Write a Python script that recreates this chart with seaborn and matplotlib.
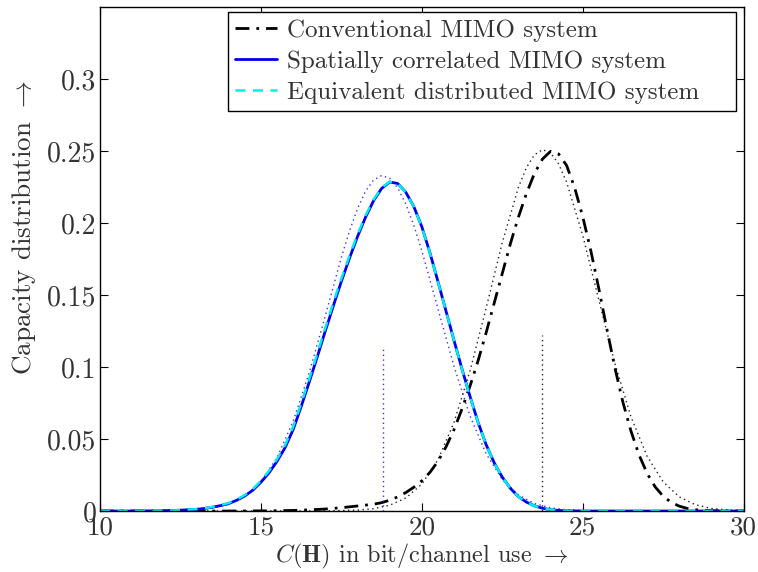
import numpy as np
import pandas as pd
import matplotlib
matplotlib.use("Agg")
import matplotlib.pyplot as plt
import seaborn as sns

# ---------------- data ----------------
x_corr = [10, 11, 12, 12.5, 13, 13.25, 13.5, 13.75, 14, 14.25, 14.5, 14.75, 15,
          15.25, 15.5, 15.75, 16, 16.25, 16.5, 16.75, 17, 17.25, 17.5, 17.75, 18,
          18.25, 18.5, 18.75, 19, 19.25, 19.5, 19.75, 20, 20.25, 20.5, 20.75, 21,
          21.25, 21.5, 21.75, 22, 22.25, 22.5, 22.75, 23, 23.25, 23.5, 23.75, 24,
          24.25, 24.5, 25, 26, 28, 30]
corr_pdf = [0, 0, 0.0002, 0.0006, 0.0012, 0.0018, 0.0027, 0.0038, 0.0052, 0.0075,
            0.0105, 0.0145, 0.0200, 0.0265, 0.0345, 0.0440, 0.0565, 0.0725, 0.0895,
            0.1070, 0.1250, 0.1425, 0.1595, 0.1755, 0.1905, 0.2040, 0.2155, 0.2240,
            0.2285, 0.2275, 0.2215, 0.2115, 0.1975, 0.1795, 0.1595, 0.1390, 0.1185,
            0.0985, 0.0795, 0.0615, 0.0460, 0.0335, 0.0235, 0.0158, 0.0100, 0.0062,
            0.0036, 0.0019, 0.0009, 0.0004, 0.0002, 0, 0, 0, 0]
dist_pdf = [0, 0, 0.0002, 0.0006, 0.0013, 0.0019, 0.0029, 0.0041, 0.0056, 0.0080,
            0.0111, 0.0153, 0.0210, 0.0278, 0.0360, 0.0458, 0.0585, 0.0747, 0.0917,
            0.1092, 0.1272, 0.1447, 0.1615, 0.1773, 0.1920, 0.2052, 0.2163, 0.2245,
            0.2287, 0.2275, 0.2213, 0.2113, 0.1973, 0.1793, 0.1593, 0.1388, 0.1183,
            0.0983, 0.0793, 0.0614, 0.0459, 0.0334, 0.0234, 0.0157, 0.0100, 0.0062,
            0.0036, 0.0019, 0.0009, 0.0004, 0.0002, 0, 0, 0, 0]

x_corr_gauss = [10, 12, 12.5, 13, 13.5, 14, 14.5, 15, 15.5, 16, 16.5, 17, 17.5,
                17.75, 18, 18.25, 18.5, 18.75, 19, 19.25, 19.5, 19.75, 20, 20.5,
                21, 21.5, 22, 22.5, 23, 23.5, 24, 24.5, 25, 26, 30]
corr_gauss = [0, 0.0001, 0.0003, 0.0008, 0.0020, 0.0047, 0.0102, 0.0203, 0.0371,
              0.0623, 0.0960, 0.1356, 0.1762, 0.1944, 0.2099, 0.2221, 0.2299,
              0.2330, 0.2311, 0.2244, 0.2133, 0.1985, 0.1807, 0.1406, 0.1005,
              0.0659, 0.0397, 0.0220, 0.0112, 0.0052, 0.0022, 0.0009, 0.0003, 0, 0]

x_conv = [10, 12, 14, 15, 16, 16.5, 17, 17.5, 18, 18.5, 18.75, 19, 19.25, 19.5,
          19.75, 20, 20.25, 20.5, 20.75, 21, 21.25, 21.5, 21.75, 22, 22.25, 22.5,
          22.75, 23, 23.25, 23.5, 23.75, 24, 24.25, 24.5, 24.75, 25, 25.25, 25.5,
          25.75, 26, 26.25, 26.5, 26.75, 27, 27.25, 27.5, 27.75, 28, 28.25, 28.5,
          28.75, 29, 29.5, 30]
conv_pdf = [0, 0, 0, 0.0001, 0.0004, 0.0008, 0.0014, 0.0023, 0.0035, 0.0047,
            0.0058, 0.0075, 0.0098, 0.0128, 0.0165, 0.0210, 0.0268, 0.0345,
            0.0445, 0.0565, 0.0710, 0.0870, 0.1045, 0.1240, 0.1445, 0.1650,
            0.1855, 0.2040, 0.2205, 0.2345, 0.2445, 0.2498, 0.2480, 0.2400,
            0.2245, 0.2045, 0.1810, 0.1545, 0.1265, 0.0995, 0.0755, 0.0555,
            0.0390, 0.0262, 0.0168, 0.0103, 0.0060, 0.0034, 0.0018, 0.0009,
            0.0004, 0.0002, 0, 0]

x_conv_gauss = [10, 17, 18, 18.5, 19, 19.5, 20, 20.5, 21, 21.5, 22, 22.5, 23,
                23.25, 23.5, 23.75, 24, 24.25, 24.5, 25, 25.5, 26, 26.5, 27,
                27.5, 28, 28.5, 29, 29.5, 30]
conv_gauss = [0, 0.0001, 0.0006, 0.0016, 0.0040, 0.0090, 0.0187, 0.0355, 0.0616,
              0.0975, 0.1411, 0.1864, 0.2247, 0.2385, 0.2474, 0.2510, 0.2488,
              0.2411, 0.2284, 0.1915, 0.1466, 0.1025, 0.0654, 0.0381, 0.0203,
              0.0098, 0.0044, 0.0018, 0.0007, 0.0002]

# mean markers (vertical dotted lines)
mean_x = [18.78, 23.74]
mean_h = [0.113, 0.122]

legend_labels = ["Conventional MIMO system",
                 "Spatially correlated MIMO system",
                 "Equivalent distributed MIMO system"]

# ---------------- style ----------------
sns.set_style("ticks")
plt.rcParams["font.family"] = "serif"
plt.rcParams["font.serif"] = ["cmr10", "DejaVu Serif"]
plt.rcParams["mathtext.fontset"] = "cm"
plt.rcParams["axes.formatter.use_mathtext"] = True
plt.rcParams["axes.unicode_minus"] = False

text_col = "#333333"

fig = plt.figure(figsize=(7.58, 5.72), dpi=100)
ax = fig.add_axes([0.132, 0.1066, 0.849, 0.881])

# Gaussian approximations (dotted)
sns.lineplot(x=x_corr_gauss, y=corr_gauss, ax=ax, color="#3333ff",
             linestyle=(0, (1, 2.5)), linewidth=1.0, estimator=None, legend=False)
sns.lineplot(x=x_conv_gauss, y=conv_gauss, ax=ax, color="#222222",
             linestyle=(0, (1, 2.5)), linewidth=1.0, estimator=None, legend=False)

# main curves
sns.lineplot(x=x_conv, y=conv_pdf, ax=ax, color="black", linewidth=2.0,
             linestyle=(0, (5, 2.5, 1, 2.5)), estimator=None, label=legend_labels[0])
sns.lineplot(x=x_corr, y=corr_pdf, ax=ax, color="#0000ee", linewidth=2.0,
             linestyle="-", estimator=None, label=legend_labels[1])
sns.lineplot(x=x_corr, y=dist_pdf, ax=ax, color="#00eeee", linewidth=1.8,
             linestyle=(0, (4, 3)), estimator=None, label=legend_labels[2])

# vertical mean lines
ax.vlines(mean_x[0], 0, mean_h[0], colors="#3333ff", linestyles=(0, (1, 2.5)), linewidth=1.0)
ax.vlines(mean_x[1], 0, mean_h[1], colors="#222222", linestyles=(0, (1, 2.5)), linewidth=1.0)

ax.set_xlim(10, 30)
ax.set_ylim(0, 0.35)
ax.set_xticks([10, 15, 20, 25, 30])
ax.set_yticks([0, 0.05, 0.1, 0.15, 0.2, 0.25, 0.3])
ax.set_yticklabels(["0", "0.05", "0.1", "0.15", "0.2", "0.25", "0.3"])
ax.set_xticklabels(["10", "15", "20", "25", "30"])

ax.tick_params(direction="in", length=6, width=0.8, top=True, right=True,
               colors="black", labelcolor=text_col)
ax.tick_params(axis="x", pad=3.5, labelsize=19.5)
ax.tick_params(axis="y", pad=2.5, labelsize=20)
for s in ax.spines.values():
    s.set_visible(True)
    s.set_color("black")
    s.set_linewidth(1.0)

ax.set_xlabel(r"$C(\mathbf{H})$ in bit/channel use $\rightarrow$", fontsize=17.5,
              color=text_col)
ax.set_ylabel(r"Capacity distribution $\rightarrow$", fontsize=19.5,
              color=text_col)
ax.xaxis.set_label_coords(0.5, -0.062)
ax.yaxis.set_label_coords(-0.097, 0.562)

leg = ax.legend(loc="upper left", bbox_to_anchor=(0.1988, 0.5, 0.790, 0.490),
                mode="expand", fontsize=18,
                frameon=True, fancybox=False, framealpha=1, edgecolor="black",
                handlelength=1.68, handletextpad=0.4, borderpad=0.3,
                labelspacing=0.33, borderaxespad=0)
leg.get_frame().set_linewidth(1.0)
for t in leg.get_texts():
    t.set_color(text_col)

fig.savefig("out.png", dpi=100)
